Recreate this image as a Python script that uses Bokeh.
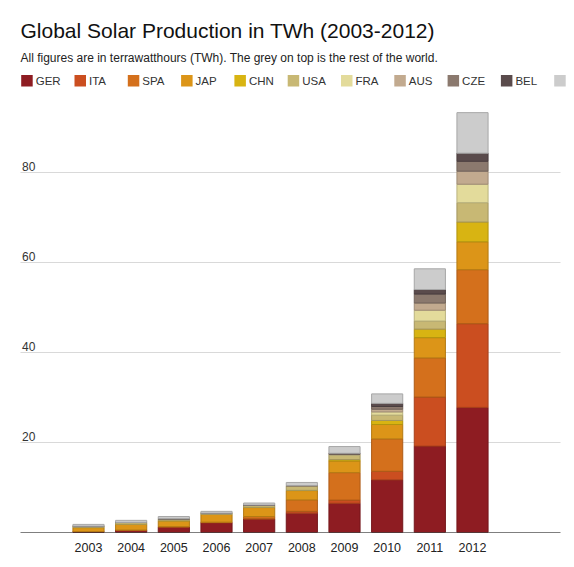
from bokeh.plotting import figure
from bokeh.models import ColumnDataSource, FixedTicker, Range1d
from bokeh.embed import file_html
from bokeh.resources import INLINE
from bokeh.core.properties import value

# ---------------- data ----------------
years = [2003, 2004, 2005, 2006, 2007, 2008, 2009, 2010, 2011, 2012]
GER = [0.2, 0.55, 1.25, 2.2, 3.0, 4.3, 6.5, 11.7, 19.2, 27.8]
ITA = [0.0, 0.0, 0.0, 0.0, 0.05, 0.4, 0.7, 1.9, 10.9, 18.6]
SPA = [0.0, 0.0, 0.05, 0.1, 0.5, 2.55, 6.1, 7.2, 8.7, 12.0]
JAP = [0.9, 1.3, 1.3, 1.7, 2.0, 2.07, 2.6, 3.2, 4.5, 6.2]
CHN = [0.0, 0.0, 0.0, 0.0, 0.05, 0.05, 0.3, 0.9, 1.9, 4.4]
USA = [0.3, 0.4, 0.45, 0.3, 0.5, 1.0, 1.0, 1.2, 1.8, 4.3]
FRA = [0.0, 0.0, 0.0, 0.0, 0.0, 0.05, 0.1, 0.7, 2.4, 4.1]
AUS = [0.0, 0.0, 0.0, 0.0, 0.0, 0.0, 0.1, 0.6, 1.6, 2.9]
CZE = [0.0, 0.0, 0.0, 0.0, 0.0, 0.0, 0.1, 0.6, 2.0, 2.2]
BEL = [0.0, 0.0, 0.0, 0.0, 0.0, 0.0, 0.1, 0.7, 1.0, 1.8]
ROW = [0.4, 0.45, 0.5, 0.4, 0.45, 0.7, 1.5, 2.1, 4.6, 9.0]

countries = ["GER", "ITA", "SPA", "JAP", "CHN", "USA", "FRA", "AUS", "CZE", "BEL", "ROW"]
legend_labels = ["GER", "ITA", "SPA", "JAP", "CHN", "USA", "FRA", "AUS", "CZE", "BEL", ""]
colors = ["#8e1c22", "#cb4e20", "#d4701c", "#dc9518", "#d8b412", "#c8b874",
          "#e3db9b", "#c2aa8f", "#8b796e", "#5a4b4c", "#cccccc"]
y_ticks = [20, 40, 60, 80]
title_text = "Global Solar Production in TWh (2003-2012)"
subtitle_text = "All figures are in terrawatthours (TWh). The grey on top is the rest of the world."


def darker(h, f=0.82):
    h = h.lstrip("#")
    r, g, b = (int(h[i:i + 2], 16) for i in (0, 2, 4))
    return "#%02x%02x%02x" % (int(r * f), int(g * f), int(b * f))


borders = [darker(c) for c in colors]

FONT = "Liberation Sans"

# ---------------- layout constants (page pixels) ----------------
MARGIN = 0              # bokeh's page template sets body margin to 0
FIG_W = 574
FRAME_H = 532           # frame from page y=0 to y=532 (baseline)
BOTTOM = 24
BASE_PY = MARGIN + FRAME_H
PX_PER_YEAR = 42.667
PX_PER_UNIT = 4.5
FIRST_BAR_PX = 88


def px2x(px):
    return years[0] + (px - FIRST_BAR_PX) / PX_PER_YEAR


def py2y(py):
    return (BASE_PY - py) / PX_PER_UNIT


x_lo, x_hi = px2x(MARGIN), px2x(MARGIN + FIG_W)
y_hi = py2y(MARGIN)
plot_left, plot_right = px2x(20), px2x(560)

p = figure(frame_width=FIG_W, frame_height=FRAME_H,
           x_range=Range1d(x_lo, x_hi), y_range=Range1d(0, y_hi),
           title=None, toolbar_location=None, output_backend="svg",
           y_axis_location=None,
           min_border_left=0, min_border_right=0, min_border_top=0,
           min_border_bottom=BOTTOM, outline_line_color=None)
p.grid.visible = False

# horizontal gridlines
n = len(y_ticks)
p.segment(x0=[plot_left] * n, y0=y_ticks, x1=[plot_right] * n, y1=y_ticks,
          line_color="#d9d9d9", line_width=1)

# stacked bars
data = dict(year=years, GER=GER, ITA=ITA, SPA=SPA, JAP=JAP, CHN=CHN, USA=USA,
            FRA=FRA, AUS=AUS, CZE=CZE, BEL=BEL, ROW=ROW)
source = ColumnDataSource(data)
p.vbar_stack(countries, x="year", width=0.73, fill_color=colors, line_color=borders,
             line_width=1, source=source)

# baseline
p.segment(x0=[plot_left], y0=[0], x1=[plot_right], y1=[0], line_color="black", line_width=1)

# y tick labels inside plot, above gridlines
p.text(x=[plot_left] * n, y=y_ticks, text=[str(t) for t in y_ticks],
       x_offset=1.5, y_offset=-6, text_font=value(FONT), text_font_size="12px",
       text_color="#333333", text_baseline="alphabetic")

# x axis (labels only)
p.xaxis.ticker = FixedTicker(ticks=years)
p.xaxis.major_tick_line_color = None
p.xaxis.minor_tick_line_color = None
p.xaxis.axis_line_color = None
p.xaxis.major_label_standoff = 4
p.xaxis.major_label_text_font = FONT
p.xaxis.major_label_text_font_size = "12.5px"
p.xaxis.major_label_text_color = "#222222"

# title and subtitle
p.text(x=[px2x(20)], y=[py2y(29.5)], text=[title_text], text_font=value(FONT),
       text_font_size="21px", text_color="#111111", text_baseline="alphabetic")
p.text(x=[px2x(20)], y=[py2y(57)], text=[subtitle_text], text_font=value(FONT),
       text_font_size="12px", text_color="#222222", text_baseline="alphabetic")

# legend
step = 53.3
sw = 11.5
lefts = [20.7 + i * step for i in range(len(countries))]
p.rect(x=[px2x(v + sw / 2) for v in lefts], y=[py2y(80.3)] * len(lefts),
       width=sw, height=sw, width_units="screen", height_units="screen",
       fill_color=colors, line_color=None)
p.text(x=[px2x(v + 14.5) for v in lefts], y=[py2y(80.5)] * len(lefts), text=legend_labels,
       text_font=value(FONT), text_font_size="11.5px", text_color="#333333",
       text_baseline="middle")

open("out.html", "w").write(file_html(p, INLINE))
